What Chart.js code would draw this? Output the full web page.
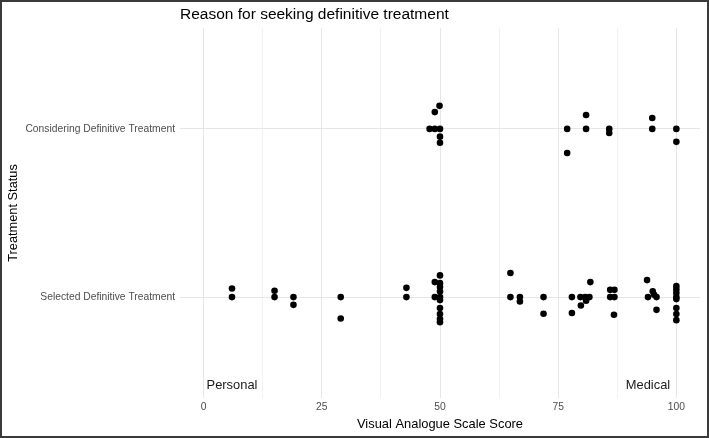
<!DOCTYPE html>
<html>
<head>
<meta charset="utf-8">
<script src="https://cdn.jsdelivr.net/npm/chart.js@4"></script>
<style>
  html, body { margin: 0; padding: 0; background: #fff; }
  canvas { display: block; }
</style>
</head>
<body>
<canvas id="c" width="709" height="438"></canvas>
<script>
// ---- data ----
const categories = ['Selected Definitive Treatment', 'Considering Definitive Treatment'];
const xTickLabels = [0, 25, 50, 75, 100];
const chartTitle = 'Reason for seeking definitive treatment';
const xTitle = 'Visual Analogue Scale Score';
const yTitle = 'Treatment Status';
const annotationTexts = ['Personal', 'Medical'];
const annotationX = [6, 94];

// Selected Definitive Treatment (category 1, jittered)
const selectedX = [6, 6, 15, 15, 19, 19, 29, 29, 42.9, 42.9,
  50, 48.9, 50, 50, 50, 48.9, 50, 50, 50, 50, 50, 50,
  64.9, 64.9, 66.9, 66.9, 71.9, 71.9,
  77.9, 77.9, 79.7, 79.8, 80.7, 80.9, 81.6, 81.8,
  86, 86, 86.9, 86.9, 86.8,
  93.8, 94, 95, 95.3, 95.8, 95.8,
  100, 100, 100, 100, 100, 100, 100, 100];
const selectedY = [1.051, 1.0, 1.038, 1.0, 1.0, 0.954, 1.0, 0.873, 1.055, 1.0,
  1.129, 1.089, 1.083, 1.06, 1.033, 1.0, 1.0, 0.982, 0.935, 0.899, 0.869, 0.851,
  1.143, 1.0, 1.0, 0.974, 1.0, 0.901,
  1.0, 0.905, 1.0, 0.95, 1.0, 0.978, 1.0, 1.089,
  1.043, 1.0, 1.043, 1.0, 0.895,
  1.101, 1.0, 1.034, 1.014, 1.0, 0.924,
  1.065, 1.045, 1.024, 1.0, 0.988, 0.935, 0.899, 0.863];

// Considering Definitive Treatment (category 2, jittered)
const consideringX = [49.9, 48.9, 47.8, 48.9, 50, 50, 50,
  76.9, 76.9, 80.9, 80.9, 85.8, 85.8, 94.9, 94.9, 100, 100];
const consideringY = [2.137, 2.10, 2.0, 2.0, 2.0, 1.954, 1.918,
  2.0, 1.857, 2.083, 2.0, 2.0, 1.976, 2.065, 2.0, 2.0, 1.923];

// ---- build ----
const toPoints = (xs, ys) => xs.map((x, i) => ({ x: x, y: ys[i] }));
const FONT = '"Liberation Sans", Arial, Helvetica, sans-serif';

const extras = {
  id: 'extras',
  afterDraw(chart) {
    const { ctx, chartArea, scales } = chart;
    ctx.save();
    // title
    ctx.fillStyle = '#000';
    ctx.font = '15.5px ' + FONT;
    ctx.textAlign = 'left';
    ctx.textBaseline = 'middle';
    ctx.fillText(chartTitle, chartArea.left, 15);
    // annotations
    ctx.font = '12.9px ' + FONT;
    ctx.fillStyle = '#1a1a1a';
    ctx.textAlign = 'center';
    annotationTexts.forEach((t, i) => {
      ctx.fillText(t, scales.x.getPixelForValue(annotationX[i]), scales.y.getPixelForValue(0.476));
    });
    // frame
    ctx.strokeStyle = '#3a3a3a';
    ctx.lineWidth = 2;
    ctx.strokeRect(1, 1, chart.width - 2, chart.height - 2);
    ctx.restore();
  }
};

new Chart(document.getElementById('c'), {
  type: 'scatter',
  data: {
    datasets: [
      { label: categories[0], data: toPoints(selectedX, selectedY) },
      { label: categories[1], data: toPoints(consideringX, consideringY) }
    ]
  },
  options: {
    responsive: false,
    animation: false,
    layout: { padding: { top: 28, right: 9, left: 0, bottom: 0 } },
    elements: {
      point: { radius: 3.3, backgroundColor: '#000', borderColor: '#000', borderWidth: 0, hoverRadius: 3.3 }
    },
    plugins: {
      legend: { display: false },
      tooltip: { enabled: false },
      title: { display: false }
    },
    scales: {
      x: {
        type: 'linear',
        min: -5,
        max: 105,
        afterBuildTicks(scale) {
          const t = [];
          for (let v = 0; v <= 100; v += 12.5) t.push({ value: v });
          scale.ticks = t;
        },
        afterFit(scale) { scale.height = 40; },
        ticks: {
          autoSkip: false,
          maxRotation: 0,
          padding: 3,
          color: '#4d4d4d',
          font: { family: FONT, size: 10.3 },
          callback: (v) => (xTickLabels.includes(v) ? String(v) : '')
        },
        grid: {
          drawTicks: false,
          color: (c) => (c.tick && xTickLabels.includes(c.tick.value) ? '#e6e6e6' : '#f1f1f1'),
          lineWidth: 1
        },
        border: { display: false },
        title: {
          display: true,
          text: xTitle,
          color: '#000',
          font: { family: FONT, size: 12.9 },
          padding: { top: 0, bottom: 6 }
        }
      },
      y: {
        type: 'linear',
        min: 0.4,
        max: 2.6,
        afterBuildTicks(scale) { scale.ticks = [{ value: 1 }, { value: 2 }]; },
        afterFit(scale) { scale.width = 180; },
        ticks: {
          autoSkip: false,
          padding: 5,
          color: '#4d4d4d',
          font: { family: FONT, size: 10.3 },
          callback: (v) => categories[v - 1] || ''
        },
        grid: { drawTicks: false, color: '#e6e6e6', lineWidth: 1 },
        border: { display: false },
        title: {
          display: true,
          text: yTitle,
          color: '#000',
          font: { family: FONT, size: 12.8 },
          padding: { top: 6, bottom: 0 }
        }
      }
    }
  },
  plugins: [extras]
});
</script>
</body>
</html>
